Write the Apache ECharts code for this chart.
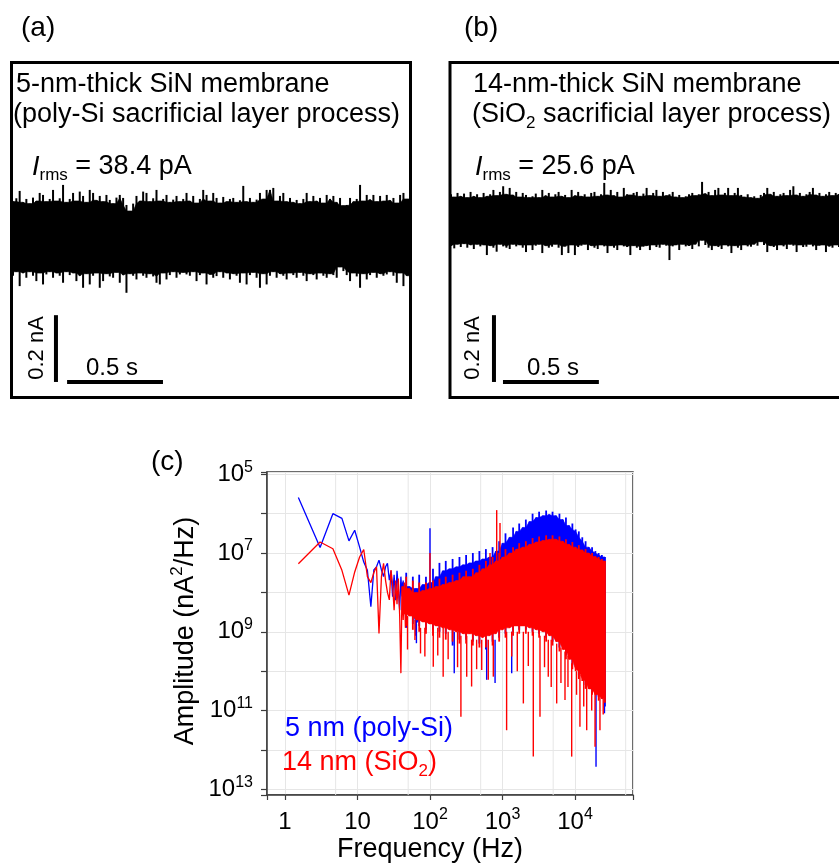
<!DOCTYPE html>
<html>
<head>
<meta charset="utf-8">
<script src="https://cdn.jsdelivr.net/npm/echarts@6/dist/echarts.min.js"></script>
<style>
html,body{margin:0;padding:0;background:#fff;}
#chart{width:839px;height:864px;}
</style>
</head>
<body>
<div id="chart"></div>
<script>
// ================= DATA =================
// Panel (a): 5-nm membrane current trace, envelope of the noise band (pA), one sample every traceAStep seconds
const traceAStep = 0.0174;
const traceAUpper = [110,120,142,108,118,104,122,112,136,130,
110,118,145,112,120,160,108,118,136,112,
140,127,108,145,136,114,127,110,130,115,
104,122,130,121,100,82,104,127,112,140,
136,110,120,145,112,118,130,108,116,127,
110,118,136,112,127,106,118,145,130,112,
136,121,106,124,110,118,121,108,114,157,
110,121,108,116,136,118,145,145,151,112,
127,136,110,121,108,115,104,118,136,110,
127,112,121,106,130,118,127,108,121,98,
100,121,110,118,160,112,130,116,130,110,
127,112,130,114,121,106,130,136,118,136];
const traceALower = [-112,-100,-143,-104,-118,-100,-112,-128,-104,-138,
-108,-100,-118,-104,-112,-133,-100,-110,-104,-128,
-112,-148,-106,-138,-112,-104,-148,-128,-106,-114,
-118,-102,-133,-110,-163,-106,-112,-123,-104,-112,
-118,-106,-114,-133,-138,-104,-123,-110,-100,-118,
-108,-102,-108,-112,-100,-128,-110,-104,-138,-108,
-118,-113,-100,-118,-104,-123,-106,-112,-133,-104,
-138,-110,-102,-118,-148,-106,-138,-112,-100,-118,
-106,-112,-123,-104,-110,-118,-102,-112,-128,-106,
-110,-123,-104,-112,-118,-106,-110,-118,-86,-98,
-110,-128,-104,-114,-148,-106,-123,-110,-102,-118,
-106,-112,-108,-100,-112,-133,-104,-143,-112,-128];
// Panel (b): 14-nm membrane
const traceBStep = 0.017;
const traceBUpper = [80,72,84,74,82,70,87,74,80,70,
84,74,80,93,76,87,104,80,99,78,
87,72,84,78,70,74,82,70,93,76,
84,72,80,87,74,78,70,93,76,87,
74,80,72,84,87,74,80,114,78,93,
76,87,72,99,80,78,84,87,74,82,
99,76,84,93,74,87,76,80,87,72,
78,70,74,80,84,76,80,117,82,87,
76,93,99,78,84,99,76,84,99,78,
72,80,70,74,68,78,84,99,80,87,
74,80,84,76,93,104,78,84,74,80,
87,99,78,84,74,80,87,76,84,80];
const traceBLower = [-74,-82,-70,-78,-68,-80,-72,-84,-70,-76,
-72,-102,-74,-80,-92,-70,-76,-80,-84,-70,
-76,-72,-80,-93,-72,-87,-74,-70,-96,-74,
-80,-77,-70,-80,-102,-76,-96,-72,-102,-78,
-74,-70,-87,-74,-80,-84,-72,-76,-96,-74,
-80,-87,-72,-76,-78,-102,-74,-80,-87,-77,
-74,-87,-72,-78,-80,-70,-74,-117,-76,-72,
-87,-70,-76,-74,-84,-70,-76,-58,-72,-80,
-87,-74,-78,-84,-72,-76,-96,-74,-80,-87,
-72,-76,-77,-70,-74,-62,-72,-93,-74,-78,
-87,-72,-76,-84,-70,-74,-93,-72,-78,-77,
-70,-76,-87,-74,-72,-93,-76,-80,-72,-78];
const scaleBarTime = 0.5;     // s
const scaleBarCurrent = 200;  // pA

// Panel (c): PSD, values are log10(amplitude in nA^2/Hz)
const lowFreq = [1.53,3.05,4.58,6.10,7.63,9.16,10.7,12.2,13.7,15.3,16.8,18.3,19.8,21.4,22.9,24.4,25.9,27.5,29.0,30.5,32.0,33.6,35.1,36.6,38.2,39.7,41.2,42.7,44.3,45.8];
const blueLowLog = [-5.59,-6.86,-6.00,-6.12,-6.69,-6.42,-6.85,-7.23,-7.44,-8.36,-7.43,-7.35,-7.18,-7.43,-7.60,-7.35,-7.26,-7.69,-7.45,-8.11,-7.55,-8.20,-7.45,-7.90,-8.45,-7.60,-8.10,-7.70,-8.55,-7.80];
const redLowLog = [-7.27,-6.72,-6.89,-7.44,-8.07,-7.48,-7.10,-6.91,-7.60,-7.75,-7.50,-7.35,-9.04,-7.60,-7.26,-7.70,-8.00,-8.19,-7.43,-7.80,-8.45,-7.70,-8.30,-7.65,-8.60,-10.05,-7.85,-8.70,-7.75,-8.90];
const bandFreq = [42,47,52,58,64,71,79,88,98,110,120,135,150,165,185,205,230,255,285,315,350,390,430,480,530,590,660,730,810,900,1000,1100,1250,1400,1550,1700,1900,2100,2350,2600,2900,3200,3600,4000,4400,4900,5500,6100,6800,7500,8300,9200,10200,11300,12600,14000,15500,17200,19100,21200,23500,25900];
const blueUpperLog = [-7.75,-7.50,-7.85,-7.60,-7.90,-7.55,-7.80,-7.60,-7.75,-7.40,-7.60,-7.25,-7.45,-7.20,-7.40,-7.15,-7.35,-7.10,-7.30,-7.05,-7.25,-7.00,-7.20,-6.95,-7.15,-6.90,-7.10,-6.85,-6.95,-6.70,-6.75,-6.50,-6.60,-6.35,-6.45,-6.25,-6.35,-6.15,-6.20,-6.00,-6.10,-5.95,-6.05,-5.92,-6.02,-5.95,-6.05,-6.00,-6.15,-6.10,-6.30,-6.25,-6.40,-6.45,-6.60,-6.70,-6.85,-6.85,-6.95,-7.00,-7.05,-7.10];
const blueLowerLog = [-8.45,-8.90,-8.50,-8.80,-9.10,-8.85,-8.70,-8.95,-8.70,-8.95,-8.75,-9.00,-8.80,-9.05,-8.85,-9.35,-8.90,-9.20,-8.95,-9.20,-8.95,-9.25,-9.00,-9.30,-9.05,-9.45,-9.00,-9.25,-8.95,-9.15,-8.85,-9.05,-8.80,-9.00,-8.75,-8.95,-8.75,-8.95,-8.80,-9.00,-8.85,-9.05,-8.90,-9.15,-9.00,-9.25,-9.15,-9.40,-9.35,-9.60,-9.60,-9.85,-9.90,-10.10,-10.15,-10.35,-10.40,-10.55,-10.55,-10.65,-10.70,-10.90];
const redUpperLog = [-7.85,-7.60,-7.90,-7.70,-8.00,-7.75,-7.95,-7.75,-7.90,-7.70,-7.85,-7.65,-7.80,-7.60,-7.75,-7.55,-7.70,-7.50,-7.60,-7.45,-7.60,-7.40,-7.50,-7.30,-7.40,-7.20,-7.30,-7.10,-7.20,-7.00,-7.10,-6.90,-7.00,-6.85,-6.90,-6.75,-6.85,-6.70,-6.78,-6.62,-6.72,-6.58,-6.68,-6.55,-6.65,-6.55,-6.65,-6.58,-6.70,-6.65,-6.78,-6.72,-6.85,-6.80,-6.92,-6.90,-7.00,-7.00,-7.08,-7.10,-7.15,-7.20];
const redLowerLog = [-8.55,-8.85,-8.60,-8.95,-8.70,-9.00,-8.75,-9.05,-8.80,-9.10,-8.85,-9.15,-8.90,-9.20,-8.95,-9.25,-9.00,-9.30,-9.05,-9.30,-9.05,-9.35,-9.10,-9.40,-9.15,-9.40,-9.10,-9.35,-9.05,-9.25,-8.95,-9.15,-8.90,-9.10,-8.85,-9.05,-8.85,-9.05,-8.90,-9.10,-8.95,-9.15,-9.00,-9.25,-9.10,-9.35,-9.25,-9.50,-9.45,-9.70,-9.70,-9.95,-10.00,-10.20,-10.25,-10.45,-10.45,-10.60,-10.60,-10.75,-10.70,-10.80];
// isolated spikes: [frequency Hz, log10 top, log10 bottom]
const blueSpikes = [[65,-8.8,-9.29],[100,-6.37,-7.8],[216,-9.0,-10.05],[605,-9.2,-10.22],[790,-9.2,-10.3],[1340,-9.0,-10.05],[19500,-10.5,-12.43],[25500,-10.6,-11.07]];
const redSpikes = [[49,-8.6,-9.45],[62,-8.7,-9.21],[74,-8.9,-9.55],[85,-8.9,-9.63],[100,-7.0,-8.0],[111,-8.9,-9.89],[128,-8.9,-9.6],[152,-8.9,-10.14],[178,-9.0,-9.7],[240,-9.0,-9.9],[267,-9.1,-11.16],[321,-9.1,-10.14],[375,-9.2,-10.39],[440,-9.2,-9.95],[517,-9.2,-9.97],[637,-9.2,-10.22],[673,-7.0,-7.5],[747,-9.2,-10.14],[832,-5.91,-7.3],[924,-6.24,-7.1],[1140,-9.0,-11.5],[1340,-9.0,-9.63],[1600,-9.0,-10.0],[1940,-9.0,-10.82],[2270,-9.0,-9.87],[2660,-9.0,-12.17],[3290,-9.1,-11.16],[3800,-9.1,-9.9],[4280,-9.2,-10.14],[4700,-9.2,-10.4],[5590,-9.3,-10.82],[6400,-9.4,-10.3],[7280,-9.5,-10.73],[8000,-9.6,-10.4],[9000,-9.8,-12.17],[10500,-10.0,-10.6],[11700,-10.1,-11.41],[13200,-10.2,-10.9],[14500,-10.3,-11.5],[17000,-10.5,-11.0],[18900,-10.5,-11.92],[22100,-10.6,-11.5],[24500,-10.7,-11.1]];
const minorGridFreq = [5, 50, 500, 5000, 50000];

// ================= LAYOUT / STYLE =================
const FONT = '"Liberation Sans", Arial, Helvetica, sans-serif';
const BLUE = '#0000ff', RED = '#ff0000';
const yMinC = Math.pow(10, -13.145), yMaxC = Math.pow(10, -4.942);
const bars = {
  a: {vt: 0.224, vi: -430, ht: 0.282, hi: -430},
  b: {vt: 0.224, vi: -482, ht: 0.271, hi: -482}
};

const pow10 = v => Math.pow(10, v);

// Dense noise band: a solid core (polygon through the less extreme of neighbouring samples)
// plus one thin vertical stroke per sample reaching the sample's own extremes.
function denseBand(xIdx, yIdx, xs, upper, lower, color, z, lw) {
  return {
    type: 'custom', xAxisIndex: xIdx, yAxisIndex: yIdx, z: z, silent: true, clip: true,
    data: [[xs[0], upper[0]]],
    renderItem: function (params, api) {
      const n = xs.length, top = [], bot = [];
      for (let i = 0; i < n; i++) {
        const a = Math.max(0, i - 1), b = Math.min(n - 1, i + 1);
        top.push(Math.min(upper[a], upper[i], upper[b]));
        bot.push(Math.max(lower[a], lower[i], lower[b]));
      }
      const pts = [];
      for (let i = 0; i < n; i++) pts.push(api.coord([xs[i], top[i]]));
      for (let i = n - 1; i >= 0; i--) pts.push(api.coord([xs[i], bot[i]]));
      const children = [{type: 'polygon', shape: {points: pts}, style: {fill: color, stroke: color, lineWidth: 0.6}}];
      for (let i = 0; i < n; i++) {
        const p1 = api.coord([xs[i], upper[i]]), p2 = api.coord([xs[i], lower[i]]);
        children.push({type: 'line', shape: {x1: p1[0], y1: p1[1], x2: p2[0], y2: p2[1]}, style: {stroke: color, lineWidth: lw}});
      }
      return {type: 'group', children: children};
    }
  };
}
function spikeSeries(spikes, color, z) {
  return {
    type: 'custom', xAxisIndex: 2, yAxisIndex: 2, z: z, silent: true, clip: true,
    data: spikes.map(s => [s[0], pow10(s[1]), pow10(s[2])]),
    renderItem: function (params, api) {
      const p1 = api.coord([api.value(0), api.value(1)]);
      const p2 = api.coord([api.value(0), api.value(2)]);
      return {type: 'line', shape: {x1: p1[0], y1: p1[1], x2: p2[0], y2: p2[1]}, style: {stroke: color, lineWidth: 1.4}};
    }
  };
}
function barLine(gi, pts) {
  return {type: 'line', xAxisIndex: gi, yAxisIndex: gi, data: pts, symbol: 'none', silent: true, z: 10,
          lineStyle: {color: '#000', width: 4, cap: 'butt'}};
}
function gText(x, y, text, opts) {
  opts = opts || {};
  const el = {type: 'text', x: x, y: y, silent: true, z: 100,
    style: Object.assign({text: text, fontFamily: FONT, fontSize: 27, fill: '#000', align: 'left', verticalAlign: 'middle'}, opts.style || {})};
  if (opts.rotation) el.rotation = opts.rotation;
  return el;
}
const richMain = (c) => ({
  n: {fontFamily: FONT, fontSize: 27, lineHeight: 34, fill: c, color: c},
  i: {fontFamily: FONT, fontSize: 27, lineHeight: 34, fontStyle: 'italic', fill: c, color: c},
  s: {fontFamily: FONT, fontSize: 17, lineHeight: 17, verticalAlign: 'bottom', fill: c, color: c},
  p: {fontFamily: FONT, fontSize: 17, lineHeight: 17, verticalAlign: 'top', fill: c, color: c}
});

const tA = traceAUpper.map((_, i) => i * traceAStep);
const tB = traceBUpper.map((_, i) => i * traceBStep);

const labelRich = {
  b: {fontFamily: FONT, fontSize: 24, lineHeight: 30, color: '#000'},
  s: {fontFamily: FONT, fontSize: 16, lineHeight: 16, verticalAlign: 'top', color: '#000'}
};
function isDecade(v) { const l = Math.log10(v); return Math.abs(l - Math.round(l)) < 0.02 ? Math.round(l) : null; }

const option = {
  animation: false,
  backgroundColor: '#fff',
  grid: [
    {left: 13, top: 63, width: 397, height: 334},
    {left: 451, top: 63, width: 388, height: 334},
    {left: 267, top: 472, width: 366, height: 323, show: true, borderColor: '#3c3c3c', borderWidth: 1.5, backgroundColor: 'rgba(0,0,0,0)'}
  ],
  xAxis: [
    {gridIndex: 0, type: 'value', min: 0, max: 2.07, show: false},
    {gridIndex: 1, type: 'value', min: 0, max: 2.023, show: false},
    {gridIndex: 2, type: 'log', logBase: 10, min: 0.565, max: 63100, splitNumber: 5,
     axisLine: {show: true, lineStyle: {color: '#3c3c3c', width: 1.5}},
     axisTick: {show: true, length: 5, lineStyle: {color: '#3c3c3c', width: 1.2}},
     axisLabel: {margin: 12, rich: labelRich, formatter: function (v) {
        const r = isDecade(v); if (r === null) return '';
        if (r === 0) return '{b|1}'; if (r === 1) return '{b|10}';
        return '{b|10}{s|' + r + '}'; }},
     splitLine: {show: true, lineStyle: {color: '#e6e6e6', width: 1}}}
  ],
  yAxis: [
    {gridIndex: 0, type: 'value', min: -475, max: 525, show: false},
    {gridIndex: 1, type: 'value', min: -527, max: 473, show: false},
    {gridIndex: 2, type: 'log', logBase: 10, min: yMinC, max: yMaxC, splitNumber: 8,
     axisLine: {show: true, lineStyle: {color: '#3c3c3c', width: 1.5}},
     axisTick: {show: true, length: 6, lineStyle: {color: '#3c3c3c', width: 1.2}},
     axisLabel: {margin: 14, rich: labelRich, formatter: function (v) {
        const r = isDecade(v); if (r === null) return '';
        const ex = -r; if (ex % 2 === 0) return '';
        return '{b|10}{s|' + ex + '}'; }},
     splitLine: {show: true, lineStyle: {color: '#e6e6e6', width: 1}}}
  ],
  series: [
    // traces
    denseBand(0, 0, tA, traceAUpper, traceALower, '#000', 2, 2),
    denseBand(1, 1, tB, traceBUpper, traceBLower, '#000', 2, 2),
    barLine(0, [[bars.a.vt, bars.a.vi], [bars.a.vt, bars.a.vi + scaleBarCurrent]]),
    barLine(0, [[bars.a.ht, bars.a.hi], [bars.a.ht + scaleBarTime, bars.a.hi]]),
    barLine(1, [[bars.b.vt, bars.b.vi], [bars.b.vt, bars.b.vi + scaleBarCurrent]]),
    barLine(1, [[bars.b.ht, bars.b.hi], [bars.b.ht + scaleBarTime, bars.b.hi]]),
    // minor vertical grid lines of (c)
    {type: 'custom', xAxisIndex: 2, yAxisIndex: 2, z: 1, silent: true,
     data: minorGridFreq.map(f => [f]),
     renderItem: function (params, api) {
       const p1 = api.coord([api.value(0), yMinC]); const p2 = api.coord([api.value(0), yMaxC]);
       return {type: 'line', shape: {x1: p1[0], y1: p1[1], x2: p2[0], y2: p2[1]}, style: {stroke: '#e6e6e6', lineWidth: 1}};
     }},
    // blue (5 nm)
    denseBand(2, 2, bandFreq, blueUpperLog.map(pow10), blueLowerLog.map(pow10), BLUE, 3, 1.8),
    spikeSeries(blueSpikes, BLUE, 3),
    {type: 'line', xAxisIndex: 2, yAxisIndex: 2, z: 4, silent: true, symbol: 'none',
     data: lowFreq.map((f, i) => [f, pow10(blueLowLog[i])]), lineStyle: {color: BLUE, width: 1.3}},
    // red (14 nm)
    denseBand(2, 2, bandFreq, redUpperLog.map(pow10), redLowerLog.map(pow10), RED, 5, 1.8),
    spikeSeries(redSpikes, RED, 5),
    {type: 'line', xAxisIndex: 2, yAxisIndex: 2, z: 6, silent: true, symbol: 'none',
     data: lowFreq.map((f, i) => [f, pow10(redLowLog[i])]), lineStyle: {color: RED, width: 1.3}}
  ],
  graphic: [
    {type: 'rect', silent: true, z: 100, shape: {x: 11.5, y: 62.5, width: 399, height: 335}, style: {fill: 'none', stroke: '#000', lineWidth: 3}},
    {type: 'rect', silent: true, z: 100, shape: {x: 450, y: 62.5, width: 400, height: 335}, style: {fill: 'none', stroke: '#000', lineWidth: 3}},
    gText(21, 28, '(a)', {style: {fontSize: 28}}),
    gText(464, 28, '(b)', {style: {fontSize: 28}}),
    gText(151, 462, '(c)', {style: {fontSize: 28}}),
    gText(16, 85, '5-nm-thick SiN membrane'),
    gText(13, 115, '(poly-Si sacrificial layer process)'),
    gText(32, 167, '{i|I}{s|rms}{n| = 38.4 pA}', {style: {rich: richMain('#000')}}),
    gText(473, 85, '14-nm-thick SiN membrane'),
    gText(472, 115, '{n|(SiO}{s|2}{n| sacrificial layer process)}', {style: {rich: richMain('#000')}}),
    gText(475, 167, '{i|I}{s|rms}{n| = 25.6 pA}', {style: {rich: richMain('#000')}}),
    gText(112, 368, '0.5 s', {style: {fontSize: 24, align: 'center'}}),
    gText(37, 348, '0.2 nA', {style: {fontSize: 22, align: 'center'}, rotation: Math.PI / 2}),
    gText(553, 368, '0.5 s', {style: {fontSize: 24, align: 'center'}}),
    gText(473, 348, '0.2 nA', {style: {fontSize: 22, align: 'center'}, rotation: Math.PI / 2}),
    gText(285, 729, '5 nm (poly-Si)', {style: {fill: BLUE}}),
    gText(282, 763, '{n|14 nm (SiO}{s|2}{n|)}', {style: {fill: RED, rich: richMain(RED)}}),
    gText(430, 850, 'Frequency (Hz)', {style: {align: 'center'}}),
    gText(186, 631, '{n|Amplitude (nA}{p|2}{n|/Hz)}', {style: {align: 'center', rich: richMain('#000')}, rotation: Math.PI / 2})
  ]
};

const chart = echarts.init(document.getElementById('chart'), null, {renderer: 'canvas'});
chart.setOption(option);
</script>
</body>
</html>
